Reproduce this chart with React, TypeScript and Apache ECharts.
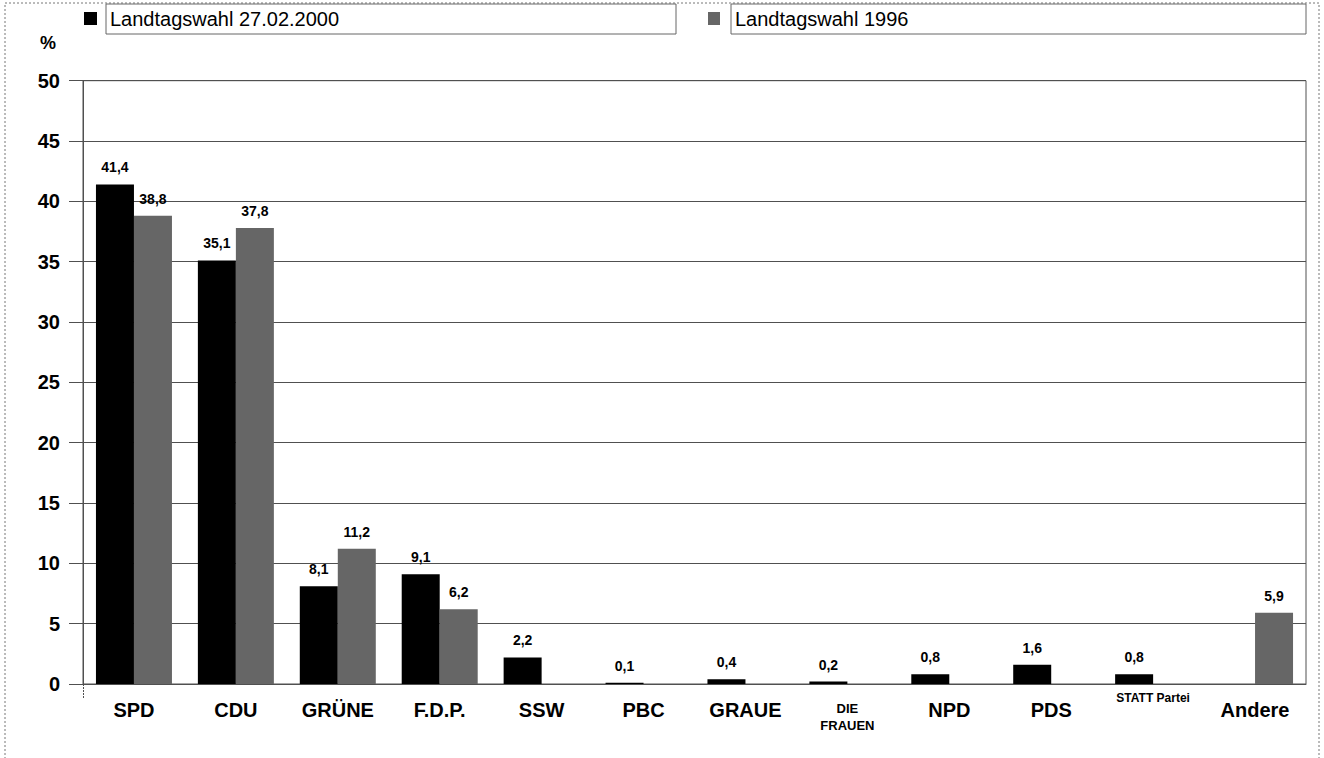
import React, { useEffect, useRef } from "react";
import * as echarts from "echarts";

const categories = ["SPD", "CDU", "GRÜNE", "F.D.P.", "SSW", "PBC", "GRAUE", "DIE\nFRAUEN", "NPD", "PDS", "STATT Partei", "Andere"];
const series2000 = [41.4, 35.1, 8.1, 9.1, 2.2, 0.1, 0.4, 0.2, 0.8, 1.6, 0.8, null];
const series1996 = [38.8, 37.8, 11.2, 6.2, null, null, null, null, null, null, null, 5.9];
const legendNames = ["Landtagswahl 27.02.2000", "Landtagswahl 1996"];
const yTicks = { min: 0, max: 50, interval: 5 };

const FONT = "'Liberation Sans', Arial, sans-serif";
const GRAY = "#666666";
const LINE = "#505050";

const fmt = (p: any) => (p.value == null ? "" : Number(p.value).toFixed(1).replace(".", ","));

export default function App() {
  const ref = useRef<HTMLDivElement>(null);
  useEffect(() => {
    document.body.style.margin = "0";
    const chart = echarts.init(ref.current!, null, { renderer: "svg" });
    const labelCommon = {
      show: true,
      position: "top" as const,
      distance: 10,
      formatter: fmt,
      fontFamily: FONT,
      fontWeight: "bold" as const,
      fontSize: 14,
      color: "#000",
    };
    chart.setOption({
      animation: false,
      backgroundColor: "#fff",
      grid: {
        left: 83,
        right: 18,
        top: 80.7,
        bottom: 74,
        show: true,
        borderColor: LINE,
        borderWidth: 1,
        containLabel: false,
      },
      xAxis: {
        type: "category",
        data: categories,
        axisLine: { show: true, lineStyle: { color: LINE, width: 1 } },
        axisTick: { show: false },
        axisLabel: {
          interval: 0,
          margin: 16,
          fontFamily: FONT,
          fontWeight: "bold",
          fontSize: 20,
          color: "#000",
          formatter: (v: string) => {
            if (v.startsWith("DIE")) return "{s|" + v + "}";
            if (v.startsWith("STATT")) return "{t|" + v + "}";
            return v;
          },
          rich: {
            s: { fontFamily: FONT, fontWeight: "bold", fontSize: 13, lineHeight: 17, color: "#000", align: "center" },
            t: { fontFamily: FONT, fontWeight: "bold", fontSize: 12, color: "#000", padding: [-8, 0, 0, 0] },
          },
        },
      },
      yAxis: {
        type: "value",
        min: yTicks.min,
        max: yTicks.max,
        interval: yTicks.interval,
        axisLine: { show: true, lineStyle: { color: LINE, width: 1 } },
        axisTick: { show: true, length: 14, lineStyle: { color: LINE, width: 1 } },
        splitLine: { show: true, lineStyle: { color: LINE, width: 1 } },
        axisLabel: {
          margin: 23,
          fontFamily: FONT,
          fontWeight: "bold",
          fontSize: 20,
          color: "#000",
        },
      },
      series: [
        {
          name: legendNames[0],
          type: "bar",
          data: series2000,
          barWidth: 38,
          barGap: "0%",
          itemStyle: { color: "#000" },
          label: labelCommon,
        },
        {
          name: legendNames[1],
          type: "bar",
          data: series1996,
          barWidth: 38,
          itemStyle: { color: GRAY },
          label: labelCommon,
        },
      ],
      graphic: [
        {
          type: "rect",
          shape: { x: 5, y: 3, width: 1314, height: 800 },
          style: { fill: "none", stroke: "#777", lineWidth: 1, lineDash: [2, 2] },
          silent: true,
        },
        {
          type: "rect",
          shape: { x: 106, y: 4, width: 570, height: 30 },
          style: { fill: "#fff", stroke: "#666", lineWidth: 1 },
        },
        {
          type: "rect",
          shape: { x: 731, y: 4, width: 575, height: 30 },
          style: { fill: "#fff", stroke: "#666", lineWidth: 1 },
        },
        {
          type: "rect",
          shape: { x: 84, y: 12, width: 13, height: 13 },
          style: { fill: "#000" },
        },
        {
          type: "rect",
          shape: { x: 708, y: 12, width: 12, height: 13 },
          style: { fill: GRAY },
        },
        {
          type: "text",
          x: 110,
          y: 19,
          style: { text: legendNames[0], font: "20px " + FONT, fill: "#000", verticalAlign: "middle" },
        },
        {
          type: "text",
          x: 735,
          y: 19,
          style: { text: legendNames[1], font: "20px " + FONT, fill: "#000", verticalAlign: "middle" },
        },
        {
          type: "text",
          x: 40,
          y: 43,
          style: { text: "%", font: "bold 18px " + FONT, fill: "#000", verticalAlign: "middle" },
        },
        {
          type: "line",
          shape: { x1: 83.5, y1: 684, x2: 83.5, y2: 699 },
          style: { stroke: LINE, lineWidth: 1, lineDash: [2, 1] },
        },
      ],
    });
    return () => chart.dispose();
  }, []);
  return <div ref={ref} style={{ width: 1324, height: 758 }} />;
}
